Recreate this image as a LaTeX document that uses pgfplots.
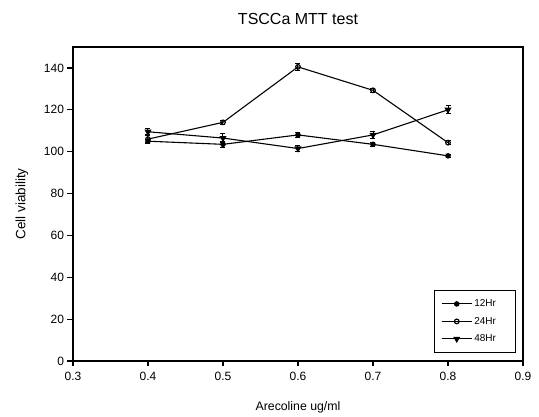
\documentclass[border=0pt]{standalone}
\usepackage{fontspec}
\setmainfont{Liberation Sans}
\usepackage{pgfplots}
\pgfplotsset{compat=1.18}

\begin{document}
\begin{tikzpicture}[x=1pt,y=1pt]
\begin{axis}[
  name=ax,
  scale only axis,
  width=450pt, height=314pt,
  xmin=0.3, xmax=0.9, ymin=0, ymax=150,
  xtick={0.3,0.4,...,0.9}, ytick={0,20,...,140},
  tick label style={font=\fontsize{12}{14}\selectfont},
  xticklabel style={yshift=-2pt, /pgf/number format/.cd,fixed,fixed zerofill,precision=1},
  /pgf/number format/assume math mode=true,
  tick align=outside, tick pos=left,
  major tick length=5.5pt,
  every tick/.style={black, line width=1.2pt},
  axis line style={line width=1.4pt},
  title={TSCCa MTT test},
  title style={font=\fontsize{16}{18}\selectfont, yshift=12.5pt},
  xlabel={Arecoline ug/ml},
  ylabel={Cell viability},
  xlabel style={font=\fontsize{12.3}{14}\selectfont, yshift=-14pt},
  ylabel style={font=\fontsize{13.5}{15}\selectfont, yshift=9pt},
  legend style={at={(0.984,0.025)}, anchor=south east, draw=black, line width=1pt,
    font=\fontsize{10}{12}\selectfont, row sep=5pt, inner xsep=7pt, inner ysep=7.5pt},
  legend cell align=left,
  legend image code/.code={\draw[mark repeat=2,mark phase=2,#1] plot coordinates {(0pt,0pt) (15pt,0pt) (30pt,0pt)};},
  error bars/error bar style={line width=1pt},
  error bars/error mark options={rotate=90, mark size=2.5pt, line width=1pt},
]
\addplot[black, line width=1.1pt, mark=*, mark size=2.2pt, mark options={fill=black},
  error bars/.cd, y dir=both, y explicit]
  coordinates {(0.4,105) +- (0,1) (0.5,103.5) +- (0,1.5) (0.6,108) +- (0,1) (0.7,103.5) +- (0,1) (0.8,98) +- (0,0.8)};
\addplot[black, line width=1.1pt, mark=o, mark size=2.3pt, mark options={fill=white, line width=1.2pt},
  error bars/.cd, y dir=both, y explicit]
  coordinates {(0.4,106) +- (0,1.5) (0.5,114) +- (0,1) (0.6,140.5) +- (0,1.5) (0.7,129.3) +- (0,1) (0.8,104.3) +- (0,1)};
\addplot[black, line width=1.1pt, mark=triangle*, mark size=3pt, mark options={rotate=180, fill=black},
  error bars/.cd, y dir=both, y explicit]
  coordinates {(0.4,109.5) +- (0,1.5) (0.5,106.5) +- (0,2) (0.6,101.5) +- (0,1.5) (0.7,108) +- (0,1.5) (0.8,120) +- (0,2)};
\legend{\makebox[32pt][l]{12Hr}, \makebox[32pt][l]{24Hr}, \makebox[32pt][l]{48Hr}}
\end{axis}
\path (ax.south west) ++(-73pt,-56pt) coordinate (bl);
\path (ax.north east) ++(16pt,47pt) coordinate (tr);
\useasboundingbox (bl) rectangle (tr);
\end{tikzpicture}
\end{document}
